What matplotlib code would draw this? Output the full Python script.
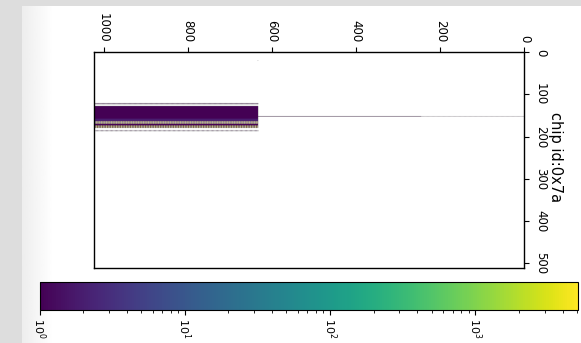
import numpy as np
import matplotlib
matplotlib.use("Agg")
import matplotlib.pyplot as plt
from matplotlib.colors import LogNorm

W, H = 581, 343
DPI = 100

# Pixel matrix size of the chip (horizontal axis x vertical axis)
n_x = 1024
n_y = 512

# Hit bands: vertical range [lo, hi), horizontal start, base count,
# spacing of filled lines, hot count and spacing of hot lines
band_y_lo = [121, 128, 158, 164, 170, 174, 185]
band_y_hi = [124, 158, 164, 170, 174, 180, 188]
band_x_lo = [634, 634, 634, 634, 634, 634, 634]
band_base = [1, 1, 2, 1, 1, 1, 1]
band_fill_step = [2, 1, 1, 2, 1, 2, 3]
band_hot = [0, 0, 0, 5100, 0, 3000, 0]
band_hot_step = [0, 0, 0, 4, 0, 3, 0]

# One noisy line crossing the rest of the matrix
line_y = 152
line_dense_x = (246, 634)
line_sparse_x = (0, 246)
line_count = 1

# Isolated single hits (y, x)
stray_y = [20]
stray_x = [634]

xticks = [0, 200, 400, 600, 800, 1000]
yticks = [0, 100, 200, 300, 400, 500]
title = "chip id:0x7a"

# ---- build hit map ----
hits = np.zeros((n_y, n_x))
for lo, hi, x0, base, fs, hot, hs in zip(band_y_lo, band_y_hi, band_x_lo, band_base,
                                         band_fill_step, band_hot, band_hot_step):
    hits[lo:hi, x0:n_x:fs] = base
    if hot:
        hits[lo:hi, x0:n_x:hs] = hot
hits[line_y, line_dense_x[0]:line_dense_x[1]] = line_count
hits[line_y, line_sparse_x[0]:line_sparse_x[1]:2] = line_count
for yy, xx in zip(stray_y, stray_x):
    hits[yy, xx] = 1

masked = np.ma.masked_equal(hits, 0)

fig = plt.figure(figsize=(W / DPI, H / DPI), dpi=DPI, facecolor="#dddddd")

# white page with a soft fade on its left edge
bg = fig.add_axes([22 / W, 0, 1 - 22 / W, 1 - 5.7 / H], zorder=-5)
ramp = np.ones(W - 22)
ramp[:32] = np.linspace(0.93, 1.0, 32)
bg.imshow(ramp[None, :], cmap="gray", vmin=0, vmax=1, aspect="auto",
          interpolation="bilinear")
bg.set_axis_off()

ax_l, ax_r, ax_t, ax_b = 93.5, 524.3, 52.3, 268.3
ax = fig.add_axes([ax_l / W, 1 - ax_b / H, (ax_r - ax_l) / W, (ax_b - ax_t) / H])
im = ax.imshow(masked, cmap="viridis", norm=LogNorm(vmin=1, vmax=hits.max()),
               extent=(0, n_x, n_y, 0), aspect="auto")
ax.set_xlim(n_x, 0)
ax.set_ylim(n_y, 0)
ax.set_facecolor("white")

ax.xaxis.tick_top()
ax.set_xticks(xticks)
ax.set_xticklabels([str(t) for t in xticks], rotation=-90, ha="center", va="bottom",
                   fontsize=8.5)
ax.yaxis.tick_right()
ax.set_yticks(yticks)
ax.set_yticklabels([str(t) for t in yticks], rotation=-90, ha="left", va="center",
                   fontsize=8.5)
for s in ax.spines.values():
    s.set_linewidth(1.0)

fig.text(556 / W, 1 - 157 / H, title, rotation=-90, ha="center", va="center",
         fontsize=10.5)

cb_l, cb_r, cb_t, cb_b = 39.5, 578.0, 281.7, 310.0
cax = fig.add_axes([cb_l / W, 1 - cb_b / H, (cb_r - cb_l) / W, (cb_b - cb_t) / H])
cb = fig.colorbar(im, cax=cax, orientation="horizontal")
cax.tick_params(axis="x", which="major", pad=2)
for lab in cax.get_xticklabels():
    lab.set_rotation(-90)
    lab.set_fontsize(8)
    lab.set_va("top")
    lab.set_ha("center")

fig.savefig("out.png", dpi=DPI, facecolor=fig.get_facecolor())
